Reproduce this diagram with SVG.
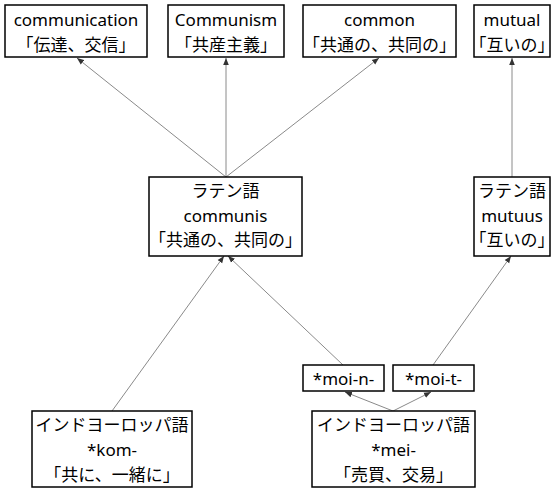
<svg xmlns="http://www.w3.org/2000/svg" width="559" height="492" viewBox="0 0 559 492">
<style>
.box{fill:#fff;stroke:#000;stroke-width:1.5}
text{font-family:"Noto Sans","Noto Sans CJK JP",sans-serif;font-size:17px;fill:#000;text-anchor:middle;dominant-baseline:central}
.edge{stroke:#8a8a8a;stroke-width:1;fill:none;marker-end:url(#ah)}
</style>
<defs>
<marker id="ah" viewBox="0 0 10 10" refX="10" refY="5" markerWidth="7" markerHeight="7" markerUnits="userSpaceOnUse" orient="auto">
<path d="M0,1 L10,5 L0,9 z" fill="#333"/>
</marker>
</defs>
<rect width="559" height="492" fill="#fff"/>
<g id="connectors">
<line class="edge" x1="226" y1="177" x2="77" y2="58"/>
<line class="edge" x1="226" y1="177" x2="226" y2="58"/>
<line class="edge" x1="226" y1="177" x2="379" y2="58"/>
<line class="edge" x1="512" y1="177" x2="512" y2="58"/>
<line class="edge" x1="112" y1="411" x2="224" y2="256"/>
<line class="edge" x1="343" y1="365" x2="228" y2="256"/>
<line class="edge" x1="433" y1="365" x2="511" y2="256"/>
<line class="edge" x1="393" y1="411" x2="345" y2="392"/>
<line class="edge" x1="393" y1="411" x2="431" y2="392"/>
</g>
<g id="communication">
<rect class="box" x="5" y="5" width="142" height="52"/>
<text x="76" y="19">communication</text>
<text x="76" y="44">「伝達、交信」</text>
</g>
<g id="communism">
<rect class="box" x="168" y="5" width="116" height="52"/>
<text x="226" y="19">Communism</text>
<text x="226" y="44">「共産主義」</text>
</g>
<g id="common">
<rect class="box" x="303" y="5" width="153" height="52"/>
<text x="379.5" y="19">common</text>
<text x="379.5" y="44">「共通の、共同の」</text>
</g>
<g id="mutual">
<rect class="box" x="474" y="5" width="76" height="52"/>
<text x="512" y="19">mutual</text>
<text x="512" y="44">「互いの」</text>
</g>
<g id="communis">
<rect class="box" x="149" y="177" width="153" height="79"/>
<text x="225.5" y="190">ラテン語</text>
<text x="225.5" y="215">communis</text>
<text x="225.5" y="239">「共通の、共同の」</text>
</g>
<g id="mutuus">
<rect class="box" x="474" y="177" width="76" height="79"/>
<text x="512" y="190">ラテン語</text>
<text x="512" y="215">mutuus</text>
<text x="512" y="239">「互いの」</text>
</g>
<g id="moi-n">
<rect class="box" x="303" y="365" width="81" height="26"/>
<text x="343.5" y="378">*moi-n-</text>
</g>
<g id="moi-t">
<rect class="box" x="393" y="365" width="81" height="26"/>
<text x="433.5" y="378">*moi-t-</text>
</g>
<g id="kom">
<rect class="box" x="32" y="411" width="160" height="76"/>
<text x="112" y="424">インドヨーロッパ語</text>
<text x="112" y="449">*kom-</text>
<text x="112" y="474">「共に、一緒に」</text>
</g>
<g id="mei">
<rect class="box" x="312" y="411" width="163" height="76"/>
<text x="393.5" y="424">インドヨーロッパ語</text>
<text x="393.5" y="449">*mei-</text>
<text x="393.5" y="474">「売買、交易」</text>
</g>
</svg>
